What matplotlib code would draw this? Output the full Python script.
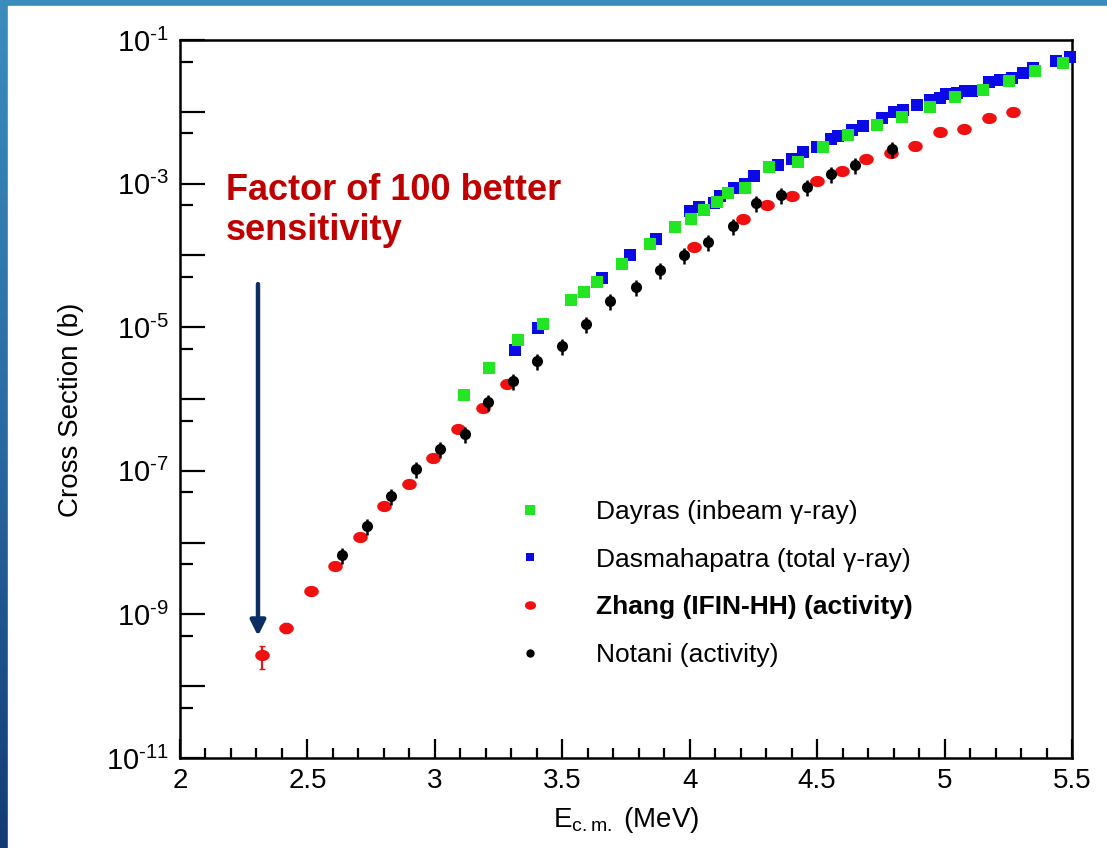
import numpy as np
import matplotlib.pyplot as plt
from matplotlib.colors import LinearSegmentedColormap
from matplotlib.lines import Line2D
from matplotlib.patches import Rectangle
from matplotlib.path import Path
from matplotlib.ticker import FixedLocator, FuncFormatter, NullFormatter

plt.rcParams["font.family"] = ["Liberation Sans", "DejaVu Sans"]
plt.rcParams["mathtext.fontset"] = "custom"
plt.rcParams["mathtext.rm"] = "Liberation Sans"
plt.rcParams["mathtext.it"] = "Liberation Sans:italic"
plt.rcParams["mathtext.bf"] = "Liberation Sans:bold"

# --- data: E_cm (MeV) and cross section (b) ---
dayras_e = [3.114, 3.214, 3.325, 3.425, 3.536, 3.585, 3.635, 3.735, 3.844, 3.942,
            4.005, 4.056, 4.106, 4.151, 4.217, 4.312, 4.423, 4.524, 4.622, 4.733,
            4.831, 4.942, 5.04, 5.151, 5.253, 5.354, 5.465]
dayras_xs = [1.15e-6, 2.7e-6, 6.6e-6, 1.1e-5, 2.4e-5, 3.1e-5, 4.3e-5, 7.6e-5, 1.45e-4, 2.5e-4,
             3.2e-4, 4.3e-4, 5.6e-4, 7.4e-4, 8.7e-4, 1.7e-3, 2.0e-3, 3.2e-3, 4.8e-3, 6.6e-3,
             8.5e-3, 1.15e-2, 1.6e-2, 2.0e-2, 2.7e-2, 3.7e-2, 4.8e-2]

dasma_e = [3.314, 3.406, 3.654, 3.765, 3.867, 4.003, 4.036, 4.096, 4.118, 4.175,
           4.216, 4.253, 4.345, 4.402, 4.443, 4.498, 4.553, 4.583, 4.635, 4.681,
           4.753, 4.801, 4.838, 4.893, 4.942, 4.982, 5.005, 5.047, 5.08, 5.106,
           5.175, 5.217, 5.263, 5.306, 5.348, 5.439, 5.491]
dasma_xs = [4.8e-6, 9.8e-6, 4.9e-5, 1.0e-4, 1.7e-4, 4.1e-4, 4.7e-4, 5.4e-4, 6.8e-4, 8.7e-4,
            1.0e-3, 1.26e-3, 1.8e-3, 2.2e-3, 2.75e-3, 3.2e-3, 4.2e-3, 4.6e-3, 5.5e-3, 6.3e-3,
            8.1e-3, 9.8e-3, 1.07e-2, 1.25e-2, 1.45e-2, 1.55e-2, 1.75e-2, 1.8e-2, 1.95e-2, 1.95e-2,
            2.6e-2, 2.75e-2, 2.95e-2, 3.5e-2, 4.1e-2, 5.1e-2, 5.75e-2]

zhang_e = [2.32, 2.416, 2.513, 2.608, 2.706, 2.80, 2.898, 2.994, 3.092, 3.187,
           3.284, 4.016, 4.21, 4.305, 4.402, 4.498, 4.596, 4.69, 4.788, 4.883,
           4.982, 5.076, 5.174, 5.27]
zhang_xs = [2.7e-10, 6.5e-10, 2.1e-9, 4.7e-9, 1.2e-8, 3.2e-8, 6.5e-8, 1.5e-7, 3.8e-7, 7.6e-7,
            1.6e-6, 1.3e-4, 3.2e-4, 5.0e-4, 6.8e-4, 1.1e-3, 1.5e-3, 2.2e-3, 2.7e-3, 3.3e-3,
            5.2e-3, 5.8e-3, 8.1e-3, 9.8e-3]
zhang_relerr = [0.35, 0.15, 0.12, 0.08, 0.06, 0.05, 0.05, 0.05, 0.05, 0.05,
                0.05, 0.05, 0.05, 0.05, 0.05, 0.05, 0.05, 0.05, 0.05, 0.05,
                0.05, 0.05, 0.05, 0.05]

notani_e = [2.637, 2.732, 2.828, 2.925, 3.02, 3.118, 3.21, 3.308, 3.402, 3.50,
            3.595, 3.689, 3.788, 3.883, 3.977, 4.073, 4.168, 4.262, 4.36, 4.459,
            4.553, 4.648, 4.792]
notani_xs = [6.8e-9, 1.7e-8, 4.4e-8, 1.07e-7, 2.0e-7, 3.3e-7, 9.1e-7, 1.8e-6, 3.4e-6, 5.5e-6,
             1.1e-5, 2.3e-5, 3.6e-5, 6.3e-5, 1.0e-4, 1.55e-4, 2.6e-4, 5.4e-4, 6.9e-4, 9.1e-4,
             1.35e-3, 1.8e-3, 3.0e-3]
notani_relerr = 0.25

labels = ["Dayras (inbeam γ-ray)", "Dasmahapatra (total γ-ray)",
          "Zhang (IFIN-HH) (activity)", "Notani (activity)"]
c_green, c_blue, c_red, c_black = "#22e622", "#0a0ae6", "#f01010", "black"

# elliptical marker for the Zhang points
t = np.linspace(0, 2 * np.pi, 40)
ellipse = Path(np.column_stack([1.3 * np.cos(t), np.sin(t)]), closed=True)

fig = plt.figure(figsize=(11.07, 8.48), dpi=100)

# blue slide frame on the left and top
bg = fig.add_axes([0, 0, 1, 1], zorder=-10)
grad = np.linspace(0, 1, 256).reshape(-1, 1)
bg.imshow(grad, aspect="auto", extent=[0, 1, 0, 1], origin="lower",
          cmap=LinearSegmentedColormap.from_list("frame", ["#133b73", "#2a6aa3", "#3b8dbd"]))
bg.add_patch(Rectangle((8 / 1107, 0), 1, 1 - 6 / 848, color="white"))
bg.set_xlim(0, 1)
bg.set_ylim(0, 1)
bg.axis("off")

ax = fig.add_axes([180 / 1107, 1 - 758 / 848, 892 / 1107, 718 / 848])
ax.set_facecolor("none")

ax.plot(dasma_e, dasma_xs, ls="none", marker="s", color=c_blue, ms=8.5, mew=0,
        clip_on=False, zorder=3)
ax.errorbar(dayras_e, dayras_xs, yerr=np.array(dayras_xs) * 0.06, fmt="s",
            color=c_green, ms=8.5, mew=0, elinewidth=1.5, capsize=0,
            clip_on=False, zorder=4)
ax.errorbar(zhang_e, zhang_xs, yerr=np.array(zhang_xs) * np.array(zhang_relerr),
            fmt="none", ecolor=c_red, elinewidth=1.5, capsize=2.5, zorder=5)
ax.plot(zhang_e, zhang_xs, ls="none", marker=ellipse, color=c_red, ms=10.5,
        mew=0, clip_on=False, zorder=5)
ax.errorbar(notani_e, notani_xs, yerr=np.array(notani_xs) * notani_relerr, fmt="o",
            color=c_black, ms=8, mew=0, elinewidth=1.8, capsize=2.5, capthick=1.8,
            clip_on=False, zorder=6)

ax.set_yscale("log")
ax.set_xlim(2, 5.5)
ax.set_ylim(1e-11, 1e-1)

ax.yaxis.set_major_locator(FixedLocator([10.0 ** k for k in range(-11, 0)]))
ax.yaxis.set_minor_locator(FixedLocator([5 * 10.0 ** k for k in range(-11, -1)]))
ax.yaxis.set_major_formatter(FuncFormatter(
    lambda v, p: r"$10^{\text{-}%d}$" % -round(np.log10(v)) if round(np.log10(v)) % 2 else ""))
ax.yaxis.set_minor_formatter(NullFormatter())
ax.xaxis.set_major_locator(FixedLocator([2, 2.5, 3, 3.5, 4, 4.5, 5, 5.5]))
ax.xaxis.set_minor_locator(FixedLocator(np.arange(2.1, 5.5, 0.1)))
ax.xaxis.set_major_formatter(FuncFormatter(lambda v, p: ("%g" % v)))

ax.tick_params(axis="y", which="major", direction="in", length=18, width=1.6,
               labelsize=21, pad=8)
ax.tick_params(axis="y", which="minor", direction="in", length=9.5, width=1.6)
ax.tick_params(axis="x", which="major", direction="in", length=14, width=1.6,
               labelsize=20, pad=7)
ax.tick_params(axis="x", which="minor", direction="in", length=7, width=1.6)
for s in ax.spines.values():
    s.set_linewidth(1.8)

ax.set_xlabel(r"E$_{\rm c.m.}$ (MeV)", fontsize=20, labelpad=8)
ax.set_ylabel("Cross Section (b)", fontsize=20)
ax.yaxis.set_label_coords(-0.108, 0.485)

handles = [
    Line2D([], [], ls="none", marker="s", color=c_green, ms=6.5, mew=0),
    Line2D([], [], ls="none", marker="s", color=c_blue, ms=6, mew=0),
    Line2D([], [], ls="none", marker=ellipse, color=c_red, ms=8, mew=0),
    Line2D([], [], ls="none", marker="o", color=c_black, ms=6, mew=0),
]
leg = ax.legend(handles, labels, loc="upper left", bbox_to_anchor=(0.363, 0.378),
                frameon=False, fontsize=19, handlelength=1.0, handletextpad=2.0,
                labelspacing=0.9, borderpad=0)
leg.get_texts()[2].set_fontweight("bold")

ax.text(2.18, 10 ** -2.85, "Factor of 100 better\nsensitivity", color="#c00000",
        fontsize=26, fontweight="bold", va="top", ha="left", linespacing=1.2)
ax.annotate("", xy=(2.306, 10 ** -9.3), xytext=(2.306, 10 ** -4.4),
            arrowprops=dict(arrowstyle="-|>,head_width=0.45,head_length=0.9",
                            color="#0b2f62", lw=3.2, shrinkA=0, shrinkB=0))

fig.savefig("out.png", dpi=100)
